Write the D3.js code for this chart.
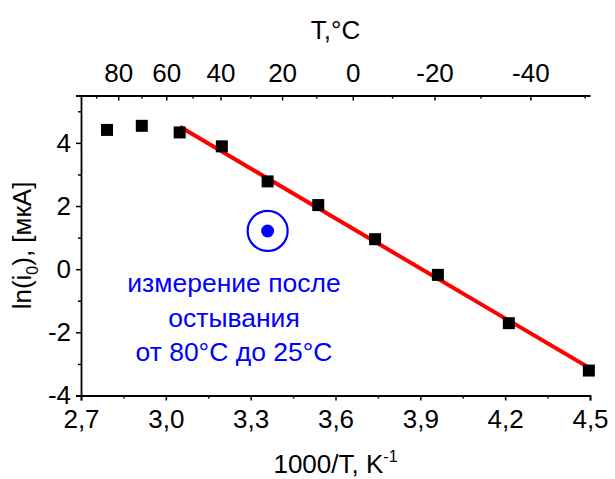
<!DOCTYPE html>
<html>
<head>
<meta charset="utf-8">
<script src="https://cdn.jsdelivr.net/npm/d3@7"></script>
<style>
  html, body { margin: 0; padding: 0; background: #fff; }
  svg { display: block; font-family: "Liberation Sans", Arial, sans-serif; }
</style>
</head>
<body>
<svg id="chart" width="615" height="479"></svg>
<script>
// Inverse temperature (1000/T, K^-1) and ln of exchange current
const invT = [2.792, 2.915, 3.049, 3.198, 3.360, 3.539, 3.740, 3.962, 4.213, 4.496];
const lnI0 = [4.41, 4.54, 4.33, 3.89, 2.78, 2.03, 0.95, -0.18, -1.71, -3.21];

// Linear fit drawn over the low-temperature branch
const fitX = [3.05, 4.50];
const fitY = [4.51, -3.14];

// Single measurement after cooling from 80°C to 25°C
const cooledX = [3.360];
const cooledY = [1.21];
const noteLines = ["измерение после", "остывания", "от 80°C до 25°C"];

// Axis ticks
const bottomTicks = [2.7, 3.0, 3.3, 3.6, 3.9, 4.2, 4.5];
const bottomMinor = [2.85, 3.15, 3.45, 3.75, 4.05, 4.35];
const leftTicks = [-4, -2, 0, 2, 4];
const leftMinor = [-3, -1, 1, 3, 5];
const topTicksC = [80, 60, 40, 20, 0, -20, -40];
const topMinorC = [90, 70, 50, 30, 10, -10, -30, -50];

const svg = d3.select("#chart");
const M = { left: 81, right: 590, top: 95.5, bottom: 395.5 };

const x = d3.scaleLinear().domain([2.7, 4.5]).range([M.left, M.right]);
const y = d3.scaleLinear().domain([-4, 5.5]).range([M.bottom, M.top]);
const toInv = c => 1000 / (c + 273.15);

const fmtComma = d => d3.format(".1f")(d).replace(".", ",");
const fmtInt = d => String(d).replace("\u2212", "-");

const fontSize = 26;

// Bottom axis
const gB = svg.append("g").attr("transform", `translate(0,${M.bottom})`);
gB.call(d3.axisBottom(x).tickValues(bottomTicks).tickFormat(fmtComma).tickSize(5).tickPadding(9));
gB.append("g").call(d3.axisBottom(x).tickValues(bottomMinor).tickFormat("").tickSize(3))
  .select(".domain").remove();

// Left axis
const gL = svg.append("g").attr("transform", `translate(${M.left},0)`);
gL.call(d3.axisLeft(y).tickValues(leftTicks).tickFormat(fmtInt).tickSize(5).tickPadding(5));
gL.append("g").call(d3.axisLeft(y).tickValues(leftMinor).tickFormat("").tickSize(3))
  .select(".domain").remove();

// Top axis in °C, ticks pointing into the plot
const gT = svg.append("g").attr("transform", `translate(0,${M.top})`);
gT.call(d3.axisTop(x).tickValues(topTicksC.map(toInv)).tickFormat((d, i) => fmtInt(topTicksC[i]))
  .tickSizeInner(-5).tickSizeOuter(0).tickPadding(14));
gT.append("g").call(d3.axisTop(x).tickValues(topMinorC.map(toInv)).tickFormat("").tickSizeInner(-3).tickSizeOuter(0))
  .select(".domain").remove();

[gB, gL, gT].forEach(g => {
  g.selectAll("path.domain").attr("stroke", "#000").attr("stroke-width", 1.8);
  g.selectAll(".tick line").attr("stroke", "#000").attr("stroke-width", 1.5);
  g.selectAll(".tick text").attr("font-size", fontSize).attr("fill", "#000")
    .attr("font-family", "Liberation Sans, Arial, sans-serif");
});
gT.selectAll(".tick text").attr("dy", "0");

// Axis titles
svg.append("text").attr("x", (M.left + M.right) / 2).attr("y", 39)
  .attr("text-anchor", "middle").attr("font-size", fontSize).text("T,°C");

const xt = svg.append("text").attr("x", (M.left + M.right) / 2).attr("y", 473)
  .attr("text-anchor", "middle").attr("font-size", fontSize);
xt.append("tspan").text("1000/T, K");
xt.append("tspan").attr("dy", -11).attr("font-size", 16).text("-1");

const yt = svg.append("text")
  .attr("transform", `translate(31,${(M.top + M.bottom) / 2}) rotate(-90)`)
  .attr("text-anchor", "middle").attr("font-size", fontSize);
yt.append("tspan").text("ln(i");
yt.append("tspan").attr("dy", 7).attr("font-size", 16).text("0");
yt.append("tspan").attr("dy", -7).text("), [мкА]");

// Fit line
const pts = fitX.map((v, i) => [v, fitY[i]]);
svg.append("path").datum(pts)
  .attr("d", d3.line().x(d => x(d[0])).y(d => y(d[1])))
  .attr("fill", "none").attr("stroke", "#ff0000").attr("stroke-width", 4);

// Measured points
const sq = 12;
svg.append("g").selectAll("rect").data(invT.map((v, i) => [v, lnI0[i]])).join("rect")
  .attr("x", d => x(d[0]) - sq / 2).attr("y", d => y(d[1]) - sq / 2)
  .attr("width", sq).attr("height", sq).attr("fill", "#000");

// Cooled measurement: dot inside a ring
const cooled = cooledX.map((v, i) => [v, cooledY[i]]);
const gc = svg.append("g");
gc.selectAll("circle.ring").data(cooled).join("circle").attr("class", "ring")
  .attr("cx", d => x(d[0])).attr("cy", d => y(d[1])).attr("r", 20)
  .attr("fill", "none").attr("stroke", "#0000ff").attr("stroke-width", 2.2);
gc.selectAll("circle.dot").data(cooled).join("circle").attr("class", "dot")
  .attr("cx", d => x(d[0])).attr("cy", d => y(d[1])).attr("r", 6.5)
  .attr("fill", "#0000ff");

// Annotation
svg.append("g").selectAll("text").data(noteLines).join("text")
  .attr("x", 234).attr("y", (d, i) => 292 + i * 34.5)
  .attr("text-anchor", "middle").attr("font-size", 26.5).attr("fill", "#0000ff")
  .text(d => d);
</script>
</body>
</html>
